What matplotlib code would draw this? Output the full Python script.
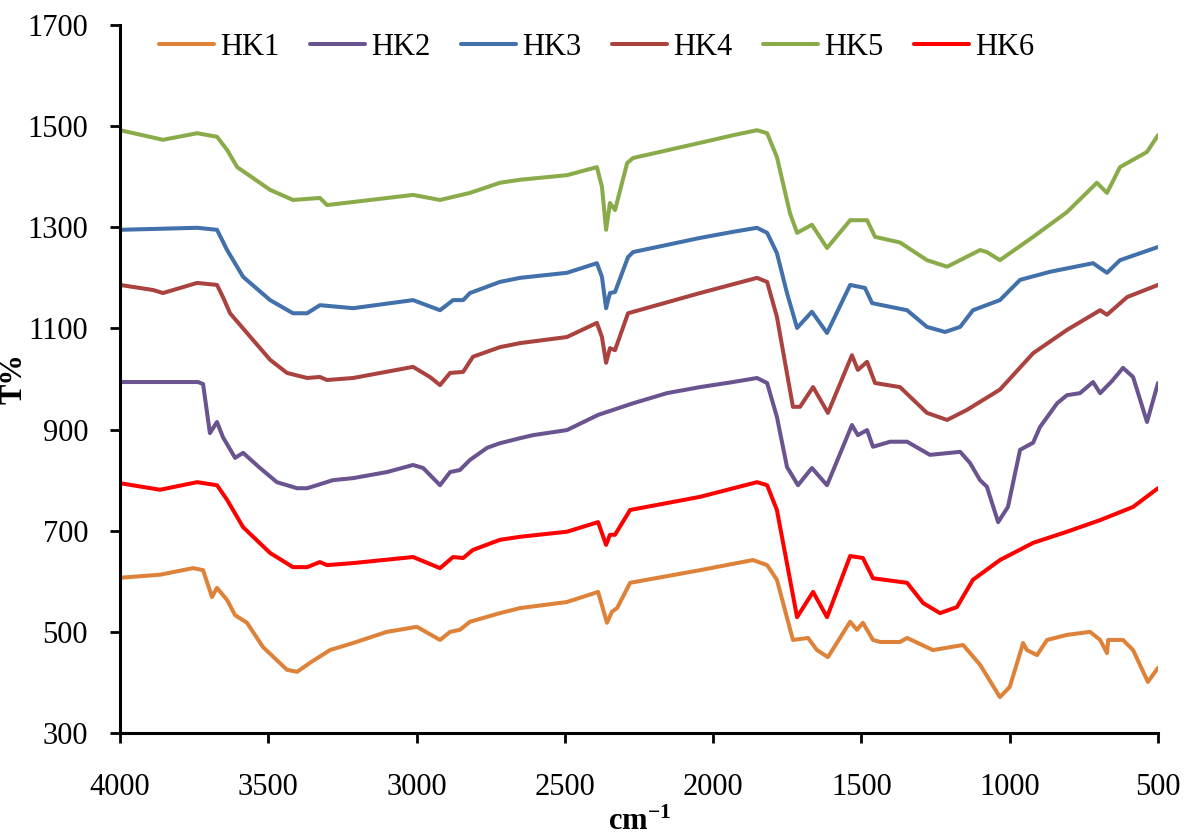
import numpy as np
import matplotlib
matplotlib.use("Agg")
import matplotlib.pyplot as plt

plt.rcParams['font.family'] = ['Liberation Serif', 'DejaVu Serif']
plt.rcParams['mathtext.fontset'] = 'custom'
plt.rcParams['mathtext.rm'] = 'Liberation Serif'
plt.rcParams['mathtext.bf'] = 'Liberation Serif:bold'

# FTIR spectra (wavenumber, T%)
hk1_x = [4000, 3865, 3754, 3720, 3690, 3673, 3639, 3612, 3572, 3518, 3437, 3403, 3359, 3292, 3214, 3100,
         2999, 2921, 2887, 2854, 2820, 2719, 2651, 2493, 2388, 2358, 2341, 2324, 2280, 2044, 1866, 1818,
         1785, 1731, 1680, 1650, 1613, 1538, 1515, 1495, 1461, 1437, 1370, 1346, 1259, 1157, 1100, 1033,
         1000, 965, 955, 942, 908, 874, 807, 729, 695, 672, 668, 618, 584, 534, 500]
hk1_y = [607, 613, 626, 622, 569, 587, 563, 533, 518, 470, 425, 421, 439, 464, 478, 500,
         510, 484, 500, 504, 520, 537, 547, 559, 579, 518, 540, 547, 597, 622, 642, 632,
         603, 484, 488, 464, 450, 520, 504, 518, 484, 480, 480, 488, 464, 474, 435, 371,
         391, 458, 478, 464, 454, 484, 494, 500, 484, 458, 484, 484, 464, 401, 429]

hk2_x = [4000, 3737, 3720, 3697, 3673, 3653, 3612, 3585, 3528, 3471, 3403, 3369, 3282, 3214, 3100, 3012,
         2978, 2921, 2887, 2854, 2820, 2762, 2719, 2651, 2607, 2493, 2388, 2270, 2156, 2044, 1933, 1852,
         1818, 1785, 1751, 1714, 1667, 1616, 1532, 1512, 1481, 1461, 1403, 1346, 1269, 1167, 1134, 1100,
         1077, 1039, 1006, 965, 921, 898, 840, 807, 763, 719, 695, 655, 618, 584, 537, 500]
hk2_y = [994, 994, 990, 893, 915, 885, 844, 854, 824, 796, 784, 784, 800, 804, 816, 830,
         824, 790, 816, 820, 840, 864, 873, 883, 889, 899, 929, 952, 972, 984, 994, 1002,
         992, 925, 826, 790, 824, 790, 909, 889, 899, 866, 876, 876, 850, 856, 834, 800,
         787, 717, 747, 860, 874, 905, 952, 968, 972, 994, 972, 996, 1022, 1004, 915, 992]

hk3_x = [4000, 3740, 3673, 3639, 3585, 3494, 3417, 3369, 3326, 3214, 3012, 2921, 2877, 2843, 2820, 2719,
         2651, 2493, 2392, 2375, 2361, 2348, 2331, 2287, 2270, 2044, 1933, 1852, 1818, 1785, 1751, 1717,
         1667, 1616, 1538, 1488, 1464, 1346, 1279, 1218, 1167, 1124, 1033, 965, 864, 719, 672, 628, 500]
hk3_y = [1295, 1299, 1295, 1255, 1202, 1156, 1130, 1130, 1146, 1140, 1156, 1136, 1156, 1156, 1170, 1192,
         1200, 1210, 1229, 1202, 1140, 1170, 1172, 1241, 1251, 1279, 1291, 1299, 1289, 1249, 1170, 1101,
         1133, 1091, 1186, 1180, 1150, 1136, 1103, 1093, 1103, 1136, 1156, 1196, 1212, 1229, 1210, 1235, 1261]

hk4_x = [4000, 3889, 3855, 3740, 3673, 3653, 3629, 3572, 3494, 3437, 3369, 3326, 3302, 3214, 3012, 2955,
         2921, 2887, 2843, 2810, 2719, 2651, 2493, 2392, 2375, 2361, 2348, 2331, 2287, 2044, 1852, 1818,
         1785, 1731, 1707, 1663, 1613, 1532, 1512, 1481, 1454, 1370, 1279, 1211, 1144, 1033, 921, 807,
         695, 672, 604, 500]
hk4_y = [1186, 1176, 1170, 1190, 1186, 1162, 1130, 1091, 1038, 1012, 1002, 1004, 998, 1002, 1024, 1004,
         988, 1012, 1014, 1044, 1063, 1071, 1083, 1111, 1083, 1032, 1061, 1057, 1130, 1170, 1200, 1192,
         1123, 945, 945, 984, 933, 1047, 1018, 1034, 992, 984, 933, 919, 939, 979, 1051, 1097,
         1136, 1127, 1162, 1186]

hk5_x = [4000, 3855, 3740, 3673, 3639, 3605, 3494, 3417, 3326, 3302, 3214, 3012, 2921, 2820, 2719, 2651,
         2493, 2392, 2375, 2361, 2348, 2331, 2290, 2270, 2044, 1933, 1852, 1818, 1785, 1741, 1717, 1667,
         1616, 1538, 1481, 1454, 1370, 1279, 1211, 1100, 1077, 1033, 921, 807, 706, 672, 628, 537, 500]
hk5_y = [1492, 1473, 1486, 1479, 1453, 1419, 1374, 1354, 1358, 1344, 1350, 1364, 1354, 1368, 1388, 1394,
         1403, 1419, 1380, 1295, 1348, 1334, 1427, 1437, 1467, 1482, 1492, 1486, 1439, 1328, 1289, 1305,
         1259, 1314, 1314, 1281, 1270, 1235, 1222, 1255, 1251, 1235, 1281, 1330, 1388, 1368, 1419, 1449, 1482]

hk6_x = [4000, 3865, 3740, 3673, 3639, 3585, 3494, 3417, 3369, 3326, 3302, 3214, 3012, 2921, 2877, 2843,
         2810, 2719, 2651, 2493, 2388, 2361, 2348, 2331, 2280, 2044, 1852, 1818, 1785, 1717, 1663, 1616,
         1538, 1495, 1461, 1346, 1292, 1235, 1178, 1124, 1033, 921, 807, 695, 584, 500]
hk6_y = [794, 781, 796, 790, 761, 707, 656, 628, 628, 638, 632, 636, 648, 626, 648, 646,
         662, 682, 688, 698, 717, 672, 692, 692, 741, 767, 796, 790, 741, 529, 579, 529,
         650, 646, 606, 597, 557, 537, 549, 603, 642, 676, 698, 721, 747, 784]

series = [
    ("HK1", hk1_x, hk1_y, "#DE8239"),
    ("HK2", hk2_x, hk2_y, "#6A5490"),
    ("HK3", hk3_x, hk3_y, "#4170AA"),
    ("HK4", hk4_x, hk4_y, "#AA433F"),
    ("HK5", hk5_x, hk5_y, "#8AAB4A"),
    ("HK6", hk6_x, hk6_y, "#FF0000"),
]

fig = plt.figure(figsize=(11.85, 8.36), dpi=100)
ax = fig.add_axes([0.1013, 0.1232, 0.8759, 0.8469])

for name, x, y, c in series:
    ax.plot(x, y, color=c, lw=2.9, label=name, solid_joinstyle='round', solid_capstyle='round')

ax.set_xlim(4000, 500)
ax.set_ylim(300, 1700)
ax.set_xticks(np.arange(4000, 499, -500))
ax.set_yticks(np.arange(300, 1701, 200))

for s in ['top', 'right']:
    ax.spines[s].set_visible(False)
for s in ['left', 'bottom']:
    ax.spines[s].set_linewidth(2.2)

ax.tick_params(axis='x', direction='out', length=7, width=2, labelsize=22, pad=22)
ax.tick_params(axis='y', direction='out', length=7, width=2, labelsize=22, pad=16)

ax.set_ylabel('T%', fontsize=22, fontweight='bold')
ax.yaxis.set_label_coords(-0.088, 0.5)
ax.set_xlabel(r'$\mathbf{cm^{-1}}$', fontsize=22, labelpad=4)

ax.legend(loc='upper center', bbox_to_anchor=(0.459, 1.028), ncol=6, frameon=False,
          fontsize=22, handlelength=1.8, handletextpad=0.2, columnspacing=1.0)

fig.savefig('out.png', dpi=100)
